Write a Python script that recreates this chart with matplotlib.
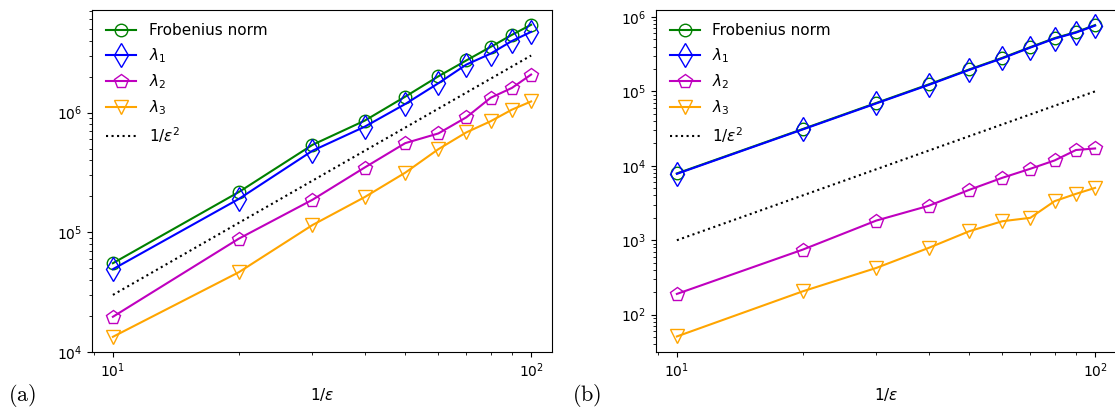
import numpy as np
from matplotlib import pyplot as plt

# 1/eps values
eps_inv = [10, 20, 30, 40, 50, 60, 70, 80, 90, 100]

# panel (a)
frob_a = [55200, 217000, 538000, 857000, 1.36e6, 2.01e6, 2.73e6, 3.54e6, 4.47e6, 5.42e6]
lam1_a = [49200, 190000, 480000, 763000, 1.18e6, 1.76e6, 2.52e6, 3.11e6, 3.97e6, 4.73e6]
lam2_a = [19700, 88500, 187000, 348000, 556000, 670000, 914000, 1.33e6, 1.61e6, 2.08e6]
lam3_a = [13400, 46400, 115000, 197000, 315000, 495000, 684000, 847000, 1.06e6, 1.24e6]
ref_scale_a = 300

# panel (b)
frob_b = [7900, 31200, 70000, 124000, 197000, 282000, 393000, 519000, 625000, 777000]
lam1_b = [7800, 30800, 69000, 122000, 194000, 278000, 387000, 511000, 616000, 765000]
lam2_b = [190, 748, 1840, 2900, 4750, 6900, 9120, 11800, 16300, 17100]
lam3_b = [51, 206, 425, 789, 1320, 1800, 2000, 3350, 4200, 5050]
ref_scale_b = 10

panels = [
    ("(a)", frob_a, lam1_a, lam2_a, lam3_a, ref_scale_a),
    ("(b)", frob_b, lam1_b, lam2_b, lam3_b, ref_scale_b),
]

fig = plt.figure(figsize=(11.15, 4.12), dpi=100)
ax_a = fig.add_axes([0.0825, 0.1456, 0.4126, 0.8313])
ax_b = fig.add_axes([0.5883, 0.1456, 0.4126, 0.8313])

x = np.array(eps_inv, dtype=float)
for ax, (tag, frob, l1, l2, l3, scale) in zip([ax_a, ax_b], panels):
    ax.loglog(x, frob, color='g', marker='o', ms=9, mfc='none', lw=1.5, label='Frobenius norm')
    ax.loglog(x, l1, color='b', marker='d', ms=12, mfc='none', lw=1.5, label=r'$\lambda_1$')
    ax.loglog(x, l2, color='m', marker='p', ms=10, mfc='none', lw=1.5, label=r'$\lambda_2$')
    ax.loglog(x, l3, color='orange', marker='v', ms=10, mfc='none', lw=1.5, label=r'$\lambda_3$')
    ax.loglog(x, scale * x**2, 'k:', lw=1.5, label=r'$1/\epsilon^2$')
    ax.set_xlabel(r'$1/\epsilon$', fontsize=11)
    ax.legend(loc='upper left', frameon=False, fontsize=11)

ax_a.set_ylim(1e4, 7.27e6)

# panel tags in Computer Modern
fig.text(0.007, 0.008, r'$\mathrm{(a)}$', fontsize=16, math_fontfamily='cm', va='bottom')
fig.text(0.513, 0.008, r'$\mathrm{(b)}$', fontsize=16, math_fontfamily='cm', va='bottom')

fig.savefig('out.png', dpi=100)
